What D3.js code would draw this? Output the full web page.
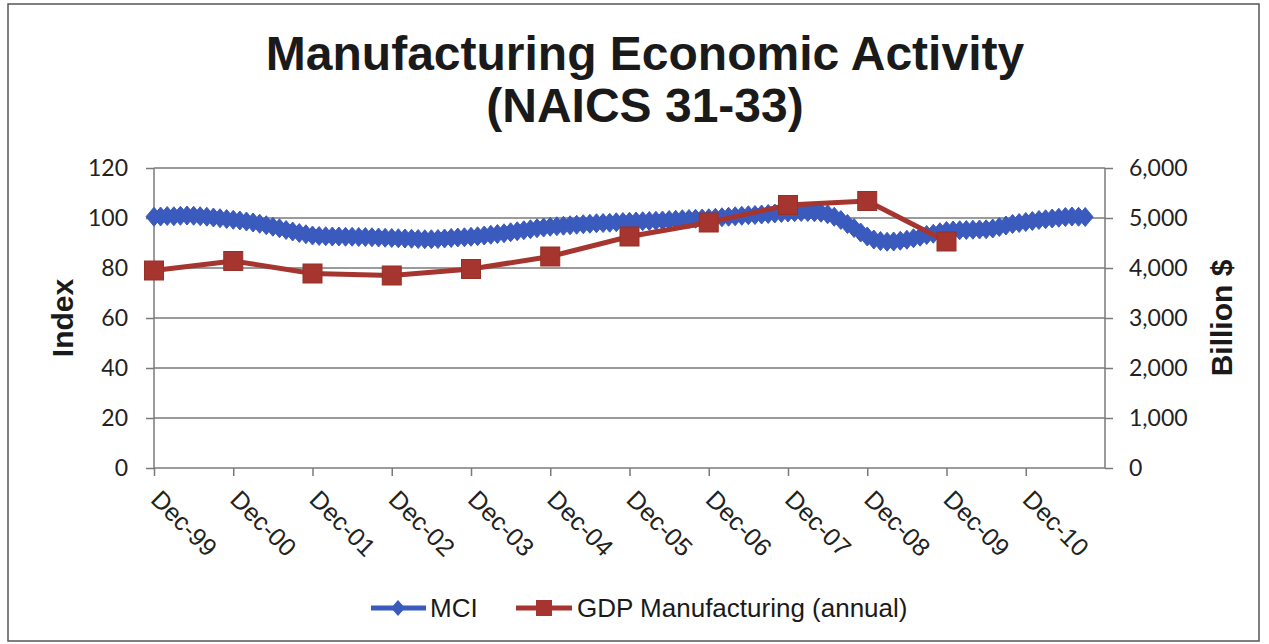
<!DOCTYPE html>
<html><head><meta charset="utf-8">
<script src="https://cdn.jsdelivr.net/npm/d3@7"></script>
<style>body{margin:0;background:#fff}svg{display:block}</style>
</head><body>
<svg id="c" width="1269" height="644"></svg>
<script>
// MCI monthly index, Dec-99 .. Sep-11
const mciValues = [
  100.5,100.6,100.8,100.7,100.9,101.0,100.9,100.7,100.5,100.2,99.9,99.6,
  99.3,99.0,98.6,98.2,97.7,97.1,96.5,95.9,95.2,94.6,94.0,93.5,
  93.0,92.8,92.7,92.6,92.6,92.5,92.5,92.4,92.4,92.3,92.2,92.1,
  92.0,91.9,91.8,91.7,91.6,91.5,91.5,91.6,91.8,92.0,92.2,92.3,
  92.5,92.7,93.0,93.3,93.6,93.9,94.3,94.7,95.1,95.5,95.9,96.2,
  96.5,96.7,96.9,97.1,97.3,97.5,97.7,97.9,98.0,98.1,98.3,98.4,
  98.5,98.6,98.7,98.8,98.9,99.0,99.2,99.3,99.5,99.6,99.7,99.8,
  99.9,100.1,100.3,100.5,100.7,100.9,101.1,101.2,101.4,101.6,101.8,102.0,
  102.2,102.3,102.4,102.4,102.3,102.1,101.5,100.5,99.2,97.6,96.0,94.2,
  92.6,91.4,90.8,90.5,90.6,90.9,91.3,91.9,92.5,93.2,93.7,94.3,
  94.8,95.0,95.1,95.2,95.3,95.4,95.5,95.8,96.4,97.0,97.6,98.0,
  98.4,98.8,99.2,99.5,99.8,100.1,100.4,100.6,100.5,100.4
];
// GDP Manufacturing (annual), Billion $, placed at each December
const gdpMonths = [0,12,24,36,48,60,72,84,96,108,120];
const gdpValues = [3950,4140,3890,3850,3980,4230,4630,4910,5260,5340,4530];
const xTickMonths = [0,12,24,36,48,60,72,84,96,108,120,132];
const xTickLabels = ["Dec-99","Dec-00","Dec-01","Dec-02","Dec-03","Dec-04","Dec-05","Dec-06","Dec-07","Dec-08","Dec-09","Dec-10"];
const leftTicks = [0,20,40,60,80,100,120];
const rightTicks = [0,1000,2000,3000,4000,5000,6000];
const titleLines = ["Manufacturing Economic Activity","(NAICS 31-33)"];
const seriesNames = ["MCI","GDP Manufacturing (annual)"];

const blue = "#3a5bbd", red = "#a6352f", grid = "#7a7a7a";
const svg = d3.select("#c");
const L = 154, R = 1105, T = 168, B = 468;

const x = d3.scaleLinear().domain([0,144]).range([L,R]);
const yL = d3.scaleLinear().domain([0,120]).range([B,T]);
const yR = d3.scaleLinear().domain([0,6000]).range([B,T]);

// outer border
svg.append("rect").attr("x",8).attr("y",4).attr("width",1251).attr("height",637)
  .attr("fill","#fff").attr("stroke","#555").attr("stroke-width",1.5);

// title
svg.append("g").selectAll("text").data(titleLines).join("text")
  .attr("x",645).attr("y",(d,i)=>70+i*52)
  .attr("text-anchor","middle")
  .style("font-family","'Liberation Sans',Arial,sans-serif").style("font-weight","bold")
  .style("font-size","48px").attr("fill","#1a1a1a").text(d=>d);

// gridlines (left-axis ticks)
svg.append("g").selectAll("line").data(leftTicks.filter(d=>d>0)).join("line")
  .attr("x1",L).attr("x2",R).attr("y1",d=>yL(d)).attr("y2",d=>yL(d))
  .attr("stroke",grid).attr("stroke-width",1.5);

// left axis
const gL = svg.append("g").attr("transform",`translate(${L},0)`)
  .call(d3.axisLeft(yL).tickValues(leftTicks).tickSize(8).tickPadding(18).tickFormat(d3.format("d")));
// right axis
const gR = svg.append("g").attr("transform",`translate(${R},0)`)
  .call(d3.axisRight(yR).tickValues(rightTicks).tickSize(8).tickPadding(16).tickFormat(d3.format(",")));
[gL,gR].forEach(g=>{
  g.select(".domain").attr("stroke",grid).attr("stroke-width",1.5).attr("d",`M0,${B}V${T}`);
  g.selectAll(".tick line").attr("stroke",grid).attr("stroke-width",1.5);
  g.selectAll(".tick text").style("font-family","Lato,'Open Sans',sans-serif").style("font-size","23px").attr("fill","#222");
});

// bottom axis
const gB = svg.append("g").attr("transform",`translate(0,${B})`)
  .call(d3.axisBottom(x).tickValues(xTickMonths).tickSize(8).tickFormat((d,i)=>xTickLabels[i]));
gB.select(".domain").attr("stroke",grid).attr("stroke-width",1.5).attr("d",`M${L},0H${R}`);
gB.selectAll(".tick line").attr("stroke",grid).attr("stroke-width",1.5);
gB.selectAll(".tick text")
  .attr("y",0).attr("dy",0)
  .attr("transform","translate(-5,33) rotate(45)")
  .attr("text-anchor","start")
  .style("font-family","'Liberation Sans',Arial,sans-serif").style("font-size","25px").attr("fill","#222");

// axis titles
svg.append("text").attr("transform","translate(73,318) rotate(-90)").attr("text-anchor","middle")
  .style("font-family","'Liberation Sans',Arial,sans-serif").style("font-weight","bold").style("font-size","30px")
  .attr("fill","#1a1a1a").text("Index");
svg.append("text").attr("transform","translate(1232,318) rotate(-90)").attr("text-anchor","middle")
  .style("font-family","'Liberation Sans',Arial,sans-serif").style("font-weight","bold").style("font-size","30px")
  .attr("fill","#1a1a1a").text("Billion $");

const diamond = (hw,hh)=>`M0,${-hh}L${hw},0L0,${hh}L${-hw},0Z`;

// MCI series
const mci = mciValues.map((v,i)=>({m:i,v}));
svg.append("path").datum(mci)
  .attr("d",d3.line().x(d=>x(d.m)).y(d=>yL(d.v)))
  .attr("fill","none").attr("stroke",blue).attr("stroke-width",6);
svg.append("g").selectAll("path").data(mci).join("path")
  .attr("transform",d=>`translate(${x(d.m)},${yL(d.v)})`)
  .attr("d",diamond(8,9.5)).attr("fill",blue).attr("stroke",blue).attr("stroke-width",1).attr("stroke-linejoin","round");

// GDP series
const gdp = gdpValues.map((v,i)=>({m:gdpMonths[i],v}));
svg.append("path").datum(gdp)
  .attr("d",d3.line().x(d=>x(d.m)).y(d=>yR(d.v)))
  .attr("fill","none").attr("stroke",red).attr("stroke-width",5);
svg.append("g").selectAll("rect").data(gdp).join("rect")
  .attr("x",d=>x(d.m)-9.5).attr("y",d=>yR(d.v)-9.5).attr("width",19).attr("height",19)
  .attr("fill",red).attr("stroke","#963029").attr("stroke-width",1);

// legend
const lg = svg.append("g").attr("transform","translate(0,608)");
lg.append("line").attr("x1",371).attr("x2",426).attr("stroke",blue).attr("stroke-width",5);
lg.append("path").attr("transform","translate(398,0)").attr("d",diamond(7,8)).attr("fill",blue);
lg.append("text").attr("x",430).attr("y",9).text(seriesNames[0]);
lg.append("line").attr("x1",516).attr("x2",572).attr("stroke",red).attr("stroke-width",5);
lg.append("rect").attr("x",536).attr("y",-8).attr("width",16).attr("height",16).attr("fill",red);
lg.append("text").attr("x",577).attr("y",9).text(seriesNames[1]);
lg.selectAll("text").style("font-family","'Liberation Sans',Arial,sans-serif").style("font-size","26px").attr("fill","#1a1a1a");
</script>
</body></html>
